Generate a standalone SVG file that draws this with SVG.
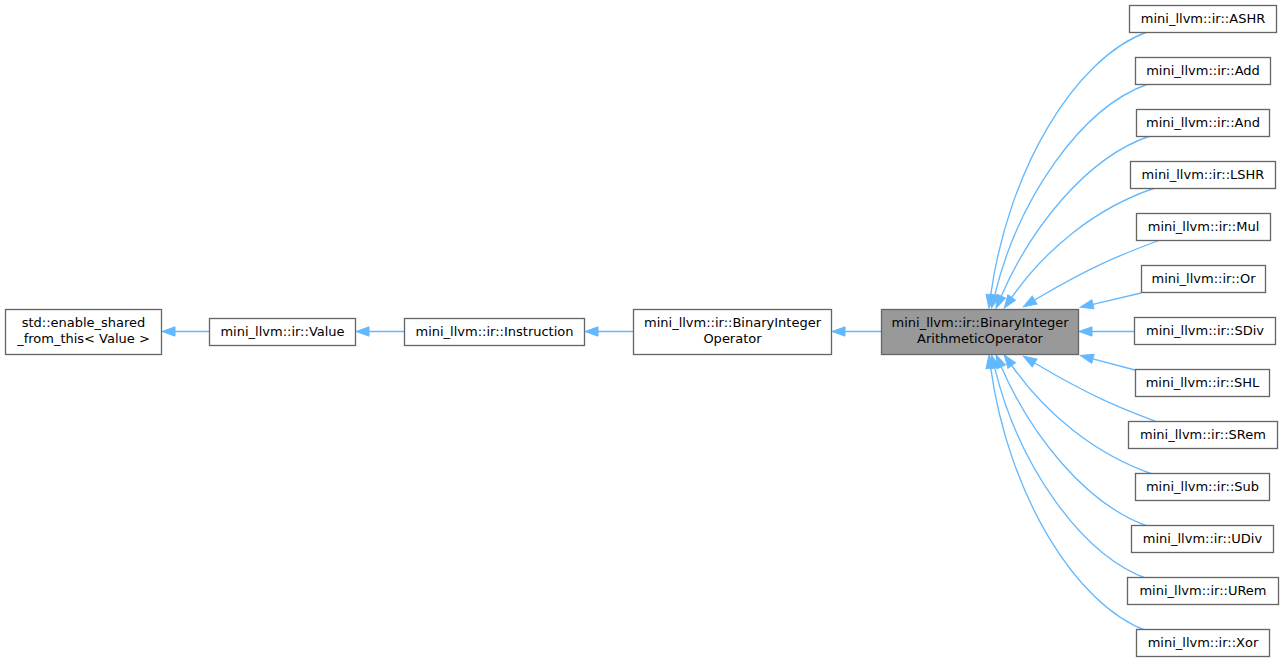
<svg xmlns="http://www.w3.org/2000/svg" width="1285" height="662" viewBox="0 0 1285 662">
<style>
.n rect{fill:#ffffff;stroke:#666666;stroke-width:1.33}
.n.hl rect{fill:#999999}
.n text{font-family:"DejaVu Sans",sans-serif;font-size:13px;fill:#000000;text-anchor:middle}
.e path{fill:none;stroke:#63b8ff;stroke-width:1.33;marker-end:url(#ah)}
</style>
<defs>
<marker id="ah" markerUnits="userSpaceOnUse" markerWidth="16" markerHeight="12" refX="0" refY="4.65" orient="auto" overflow="visible">
<path d="M0,0 L13,4.65 L0,9.3 z" fill="#63b8ff" stroke="#63b8ff" stroke-width="1"/>
</marker>
</defs>
<rect width="1285" height="662" fill="#ffffff"/>
<g id="connectors" class="e">
<path d="M209,331.5 L175,331.5"/>
<path d="M404,331.5 L369,331.5"/>
<path d="M633,331.5 L598,331.5"/>
<path d="M881,331.5 L845,331.5"/>
<path d="M1147,32 C1075,58 1008,170 990.7,295.1"/>
<path d="M1148,84 C1080,108 1018,200 994.7,295.1"/>
<path d="M1150,136 C1085,158 1030,230 1001.2,296.2"/>
<path d="M1155,188 C1095,208 1045,250 1011.7,297.5"/>
<path d="M1160,240 C1120,255 1092,266 1034.6,300"/>
<path d="M1141,293 L1092.9,304.3"/>
<path d="M1134,331.5 L1092,331.5"/>
<path d="M1135,370 L1092.9,358.8"/>
<path d="M1160,423 C1120,408 1092,397 1034.6,363"/>
<path d="M1155,475 C1095,455 1045,413 1011.7,365.5"/>
<path d="M1150,527 C1085,505 1030,433 1001.2,366.8"/>
<path d="M1148,579 C1080,555 1018,463 994.7,367.9"/>
<path d="M1147,631 C1075,605 1008,493 990.7,367.9"/>
</g>
<g id="enable_shared" class="n"><rect x="5.5" y="309.5" width="156" height="45"/><text x="83.5" y="327">std::enable_shared</text><text x="83.5" y="343">_from_this&lt; Value &gt;</text></g>
<g id="Value" class="n"><rect x="209.5" y="318.5" width="146" height="27"/><text x="282.5" y="336">mini_llvm::ir::Value</text></g>
<g id="Instruction" class="n"><rect x="404.5" y="318.5" width="180" height="27"/><text x="494.5" y="336">mini_llvm::ir::Instruction</text></g>
<g id="BinaryIntegerOperator" class="n"><rect x="633.5" y="309.5" width="198" height="45"/><text x="732.5" y="327">mini_llvm::ir::BinaryInteger</text><text x="732.5" y="343">Operator</text></g>
<g id="BinaryIntegerArithmeticOperator" class="n hl"><rect x="881.5" y="309.5" width="197" height="45"/><text x="980" y="327">mini_llvm::ir::BinaryInteger</text><text x="980" y="343">ArithmeticOperator</text></g>
<g id="ASHR" class="n"><rect x="1129.5" y="5.5" width="147" height="27"/><text x="1203" y="23">mini_llvm::ir::ASHR</text></g>
<g id="Add" class="n"><rect x="1135.5" y="57.5" width="135" height="27"/><text x="1203" y="75">mini_llvm::ir::Add</text></g>
<g id="And" class="n"><rect x="1136.5" y="109.5" width="133" height="27"/><text x="1203" y="127">mini_llvm::ir::And</text></g>
<g id="LSHR" class="n"><rect x="1130.5" y="161.5" width="145" height="27"/><text x="1203" y="179">mini_llvm::ir::LSHR</text></g>
<g id="Mul" class="n"><rect x="1136.5" y="213.5" width="134" height="27"/><text x="1203.5" y="231">mini_llvm::ir::Mul</text></g>
<g id="Or" class="n"><rect x="1141.5" y="265.5" width="124" height="27"/><text x="1203.5" y="283">mini_llvm::ir::Or</text></g>
<g id="SDiv" class="n"><rect x="1134.5" y="317.5" width="141" height="27"/><text x="1205" y="335">mini_llvm::ir::SDiv</text></g>
<g id="SHL" class="n"><rect x="1135.5" y="369.5" width="134" height="27"/><text x="1202.5" y="387">mini_llvm::ir::SHL</text></g>
<g id="SRem" class="n"><rect x="1128.5" y="421.5" width="149" height="27"/><text x="1203" y="439">mini_llvm::ir::SRem</text></g>
<g id="Sub" class="n"><rect x="1135.5" y="473.5" width="134" height="27"/><text x="1202.5" y="491">mini_llvm::ir::Sub</text></g>
<g id="UDiv" class="n"><rect x="1131.5" y="525.5" width="142" height="27"/><text x="1202.5" y="543">mini_llvm::ir::UDiv</text></g>
<g id="URem" class="n"><rect x="1127.5" y="577.5" width="151" height="27"/><text x="1203" y="595">mini_llvm::ir::URem</text></g>
<g id="Xor" class="n"><rect x="1136.5" y="629.5" width="133" height="27"/><text x="1203" y="647">mini_llvm::ir::Xor</text></g>
</svg>
